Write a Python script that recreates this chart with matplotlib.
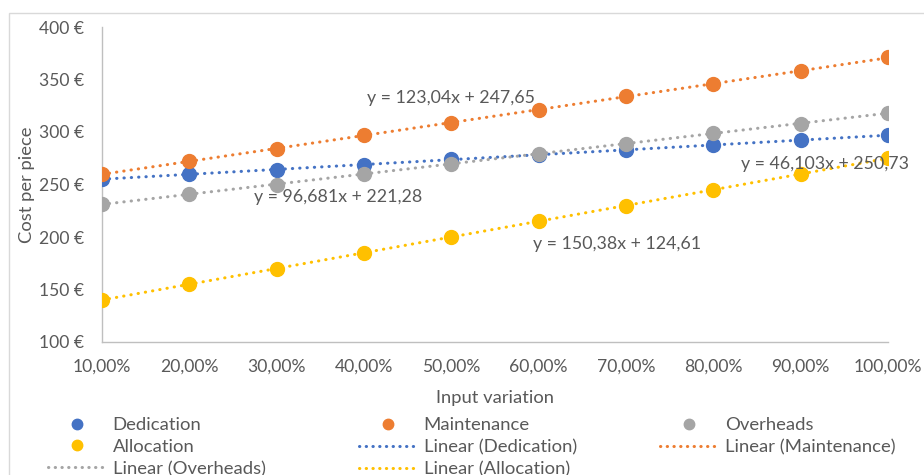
import numpy as np
import matplotlib
matplotlib.use('Agg')
import matplotlib.pyplot as plt
from matplotlib.lines import Line2D
from matplotlib.patches import Rectangle

# データ（入力変動率ごとのコスト）
variation = [0.1, 0.2, 0.3, 0.4, 0.5, 0.6, 0.7, 0.8, 0.9, 1.0]
dedication = [255, 260, 264, 269, 274, 278, 283, 288, 292, 297]
maintenance = [260, 272, 284, 297, 309, 321, 334, 346, 358, 371]
overheads = [231, 241, 250, 260, 270, 279, 289, 299, 308, 318]
allocation = [140, 155, 170, 185, 200, 215, 230, 245, 260, 275]

series_names = ['Dedication', 'Maintenance', 'Overheads', 'Allocation']
series_values = [dedication, maintenance, overheads, allocation]
series_colors = ['#4472C4', '#ED7D31', '#A5A5A5', '#FFC000']

# 近似式ラベル（Excel表示のまま）
eq_labels = ['y = 46,103x + 250,73', 'y = 123,04x + 247,65',
             'y = 96,681x + 221,28', 'y = 150,38x + 124,61']
eq_pos = [(0.928, 269.5), (0.50, 332), (0.37, 238), (0.69, 193)]

y_ticks = [100, 150, 200, 250, 300, 350, 400]

plt.rcParams['font.family'] = ['Lato', 'DejaVu Sans']
txt = '#595959'

fig = plt.figure(figsize=(9.24, 4.75), dpi=100)
W, H = 924, 475
ax = fig.add_axes([102 / W, 1 - 342 / H, (888 - 102) / W, (342 - 27) / H])

# 外枠
fig.patches.append(Rectangle((9 / W, -0.1), 1.2, 1 - 13 / H + 0.1, transform=fig.transFigure,
                             fill=False, edgecolor='#d9d9d9', lw=1))

x = np.array(variation)
for name, vals, col in zip(series_names, series_values, series_colors):
    k, b = np.polyfit(x, np.array(vals, dtype=float), 1)
    ax.plot(x, k * x + b, color=col, lw=2.2, linestyle=(0, (0.1, 2.3)),
            dash_capstyle='round', zorder=2)
for name, vals, col in zip(series_names, series_values, series_colors):
    ax.plot(x, vals, 'o', color=col, ms=10, zorder=3, label=name)

for lab, (ex, ey) in zip(eq_labels, eq_pos):
    ax.text(ex, ey, lab, ha='center', va='center', fontsize=12.8, color=txt, zorder=4)

ax.set_xlim(0.1, 1.0)
ax.set_ylim(100, 400)
ax.set_xticks(variation)
ax.set_xticklabels([('%.2f%%' % (v * 100)).replace('.', ',') for v in variation])
ax.set_yticks(y_ticks)
ax.set_yticklabels(['%d €' % v for v in y_ticks])
ax.tick_params(length=0, labelsize=12.6, colors=txt)
ax.tick_params(axis='y', pad=13)
ax.tick_params(axis='x', pad=12)
for s in ['top', 'right']:
    ax.spines[s].set_visible(False)
for s in ['left', 'bottom']:
    ax.spines[s].set_color('#bfbfbf')
    ax.spines[s].set_linewidth(1)

fig.text(495 / W, 1 - 398 / H, 'Input variation', ha='center', va='center',
         fontsize=13.2, color=txt)
fig.text(27 / W, 1 - 185 / H, 'Cost per piece', ha='center', va='center',
         rotation=90, fontsize=13.2, color=txt)

def trend_h(col):
    return Line2D([], [], color=col, lw=2.2, linestyle=(0, (0.1, 2.1)), dash_capstyle='round')

def pt_h(col):
    return Line2D([], [], color=col, marker='o', ms=7.5, lw=0)

cols = [
    ([pt_h(series_colors[0]), pt_h(series_colors[3]), trend_h(series_colors[2])],
     ['Dedication', 'Allocation', 'Linear (Overheads)'], 48),
    ([pt_h(series_colors[1]), trend_h(series_colors[0]), trend_h(series_colors[3])],
     ['Maintenance', 'Linear (Dedication)', 'Linear (Allocation)'], 359),
    ([pt_h(series_colors[2]), trend_h(series_colors[1])],
     ['Overheads', 'Linear (Maintenance)'], 660),
]
for hs, ls, x0 in cols:
    leg = fig.legend(hs, ls, loc='upper left', bbox_to_anchor=(x0 / W, 1 - 417 / H),
                     frameon=False, fontsize=13.3, handlelength=3.1, handletextpad=0.4,
                     borderpad=0, borderaxespad=0, labelspacing=0.32)
    for t in leg.get_texts():
        t.set_color(txt)

fig.savefig('out.png', dpi=100)
